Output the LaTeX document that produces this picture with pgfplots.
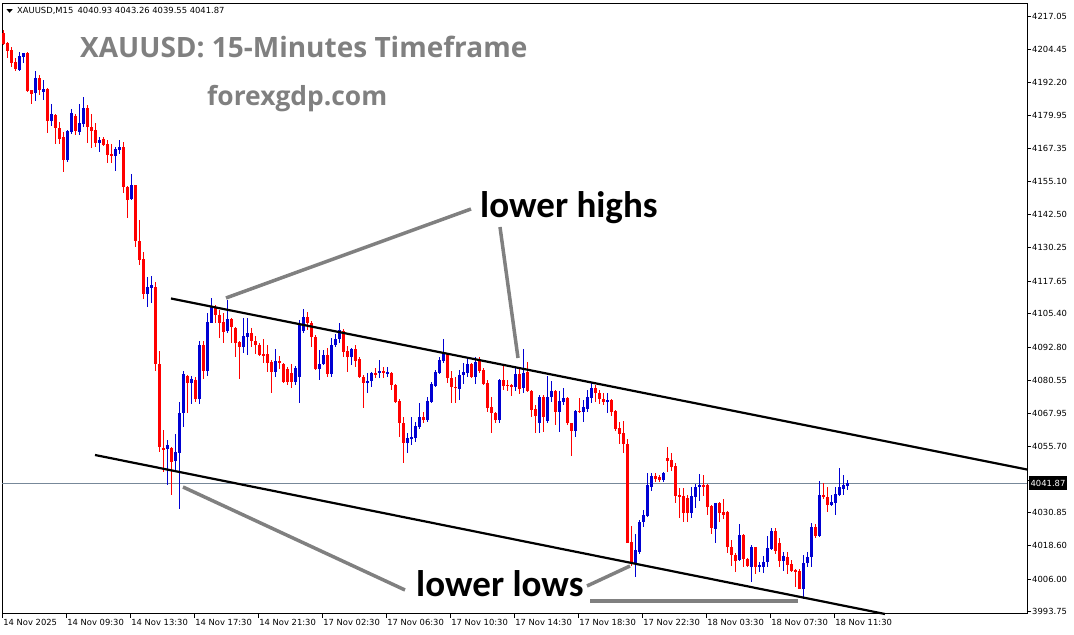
\documentclass[border=0pt]{standalone}
\usepackage{fontspec}
\setmainfont{DejaVu Sans}
\newfontfamily\titlefont{Open Sans}
\newfontfamily\annfont{Carlito}
\usepackage{pgfplots}
\pgfplotsset{compat=1.18}
\usepackage{pgfplotstable}
\definecolor{cred}{RGB}{255,0,0}
\definecolor{cblue}{RGB}{0,0,210}
\definecolor{tgray}{RGB}{128,128,128}
\definecolor{bidline}{RGB}{119,136,153}

\pgfplotstableread{
k o h l c
0 4210.8 4211.9 4206.2 4206.6
1 4207.1 4207.4 4201.2 4204.1
2 4204.4 4205.4 4198.1 4199.6
3 4199.9 4201.2 4196.6 4197.3
6 4203.3 4203.6 4188.7 4189.0
7 4189.4 4189.4 4184.0 4187.9
9 4194.0 4195.0 4187.5 4189.4
11 4189.8 4190.1 4173.3 4177.8
13 4180.0 4180.4 4169.2 4175.0
14 4175.1 4177.4 4169.1 4171.0
15 4171.6 4173.6 4158.7 4163.1
18 4179.6 4180.4 4172.5 4174.0
21 4182.6 4183.6 4169.4 4175.6
22 4175.6 4180.4 4167.7 4174.1
23 4174.4 4176.9 4168.1 4169.6
25 4171.1 4171.6 4168.4 4168.7
26 4169.1 4170.6 4162.1 4165.1
27 4165.4 4169.1 4162.1 4164.6
30 4168.1 4169.9 4150.8 4152.9
31 4152.9 4153.4 4141.5 4148.1
33 4153.8 4153.8 4130.6 4132.8
34 4132.8 4140.6 4123.7 4125.6
35 4126.0 4128.6 4110.9 4112.9
38 4115.6 4117.4 4084.1 4086.6
39 4086.6 4091.6 4053.6 4055.6
40 4055.2 4061.9 4046.2 4054.4
42 4055.0 4055.6 4037.5 4050.0
46 4082.1 4082.5 4068.3 4079.4
48 4080.6 4081.8 4072.2 4073.4
50 4093.7 4095.2 4081.0 4084.1
53 4108.1 4108.7 4101.9 4105.0
54 4105.0 4106.9 4096.2 4102.1
55 4102.5 4105.6 4094.4 4098.7
57 4103.4 4103.7 4094.4 4100.6
58 4100.0 4100.6 4089.1 4094.6
59 4095.0 4095.2 4080.9 4093.1
62 4098.3 4100.0 4093.1 4095.2
63 4095.3 4097.1 4090.4 4093.7
64 4093.7 4094.6 4089.6 4090.0
65 4090.4 4095.9 4086.9 4089.6
66 4090.4 4093.7 4083.7 4087.1
67 4087.5 4088.1 4075.6 4083.7
69 4087.7 4089.6 4084.6 4087.1
70 4086.6 4086.9 4079.4 4080.0
71 4084.6 4085.4 4078.7 4080.0
72 4083.1 4086.6 4077.5 4080.0
76 4104.3 4106.2 4099.4 4102.1
77 4101.9 4102.8 4093.1 4096.6
78 4096.8 4097.5 4084.4 4084.6
81 4090.0 4092.5 4081.6 4082.9
85 4099.1 4099.6 4089.3 4091.2
86 4091.6 4093.4 4083.7 4089.3
88 4092.1 4093.7 4085.6 4087.8
89 4088.4 4089.3 4081.2 4081.8
90 4081.8 4082.5 4070.0 4079.6
93 4083.3 4085.0 4081.2 4082.6
95 4084.1 4085.4 4081.2 4083.1
97 4083.3 4083.7 4076.9 4078.7
98 4078.7 4079.1 4072.1 4072.5
99 4072.8 4073.4 4059.3 4064.4
100 4064.4 4066.8 4049.6 4057.1
105 4066.6 4068.7 4064.4 4065.6
111 4090.4 4090.8 4079.6 4081.2
112 4081.2 4084.1 4072.1 4077.9
113 4078.1 4081.8 4072.1 4077.5
117 4086.6 4087.1 4081.2 4081.8
119 4087.8 4089.3 4083.1 4084.1
120 4084.4 4085.0 4078.7 4079.1
121 4079.4 4080.6 4068.7 4070.0
122 4070.4 4074.1 4060.8 4068.1
123 4068.1 4068.7 4064.4 4065.6
125 4080.6 4086.2 4076.9 4078.4
126 4078.7 4080.6 4076.6 4078.4
127 4078.7 4079.1 4074.6 4078.1
129 4082.9 4084.6 4075.4 4077.1
131 4083.7 4087.5 4076.2 4076.6
132 4076.6 4076.9 4066.8 4069.4
133 4069.6 4071.2 4060.8 4067.1
135 4074.1 4075.0 4061.2 4066.6
138 4076.6 4076.9 4063.7 4068.7
141 4073.7 4074.1 4063.7 4064.4
142 4064.4 4064.6 4052.1 4061.6
144 4069.1 4073.7 4068.1 4068.7
148 4077.5 4078.7 4072.4 4075.6
149 4075.6 4076.9 4071.6 4073.4
150 4073.4 4075.8 4071.2 4072.5
152 4073.1 4073.4 4067.1 4068.7
153 4069.1 4069.4 4061.5 4062.1
154 4062.5 4065.0 4056.6 4060.4
155 4060.6 4065.3 4053.3 4056.6
156 4056.6 4058.4 4019.4 4019.6
157 4020.0 4025.9 4010.9 4011.9
163 4044.6 4045.8 4042.4 4043.4
164 4044.1 4045.0 4042.4 4043.1
166 4051.2 4055.6 4046.2 4050.3
167 4050.6 4053.3 4046.6 4048.1
168 4048.4 4049.6 4034.4 4037.1
169 4037.5 4040.0 4028.7 4036.6
170 4037.1 4040.0 4027.5 4030.8
171 4036.4 4037.5 4027.5 4030.8
175 4041.2 4045.0 4037.1 4040.4
176 4041.2 4041.6 4030.0 4033.1
177 4033.4 4033.7 4022.9 4025.0
179 4034.6 4035.0 4027.5 4030.8
180 4031.2 4035.9 4028.4 4030.0
181 4031.2 4031.6 4015.6 4017.9
182 4018.1 4020.6 4010.9 4015.0
183 4015.0 4015.6 4008.7 4012.8
185 4022.5 4022.9 4010.4 4013.4
186 4013.4 4013.7 4010.4 4010.9
188 4017.9 4018.1 4007.9 4010.4
193 4024.1 4025.0 4015.4 4016.6
194 4019.6 4021.2 4010.4 4012.8
196 4014.4 4016.2 4007.9 4011.2
197 4011.6 4013.1 4008.7 4009.1
198 4009.4 4009.6 4003.1 4008.7
199 4009.1 4009.6 4002.1 4002.3
203 4025.6 4026.6 4021.2 4022.1
205 4037.5 4041.9 4035.9 4036.9
206 4036.9 4040.4 4031.2 4033.7
}\down

\pgfplotstableread{
k o h l c
4 4196.9 4203.7 4196.6 4202.1
5 4201.8 4203.3 4199.6 4203.1
8 4188.1 4196.5 4185.2 4194.0
10 4188.7 4193.1 4185.6 4189.7
12 4177.8 4184.1 4175.9 4180.4
16 4163.1 4174.4 4162.5 4174.1
17 4173.6 4182.2 4172.9 4180.6
19 4173.7 4184.1 4172.5 4176.9
20 4176.5 4186.8 4175.4 4182.5
24 4169.6 4171.6 4166.2 4170.6
28 4164.6 4168.1 4159.1 4167.3
29 4166.9 4170.6 4165.4 4168.1
32 4148.6 4157.9 4148.1 4153.8
36 4112.9 4119.3 4107.9 4115.6
37 4115.2 4119.6 4109.6 4116.2
41 4054.6 4058.1 4041.2 4056.2
43 4050.2 4060.4 4046.9 4053.5
44 4053.1 4072.5 4032.3 4068.3
45 4068.3 4084.1 4063.1 4082.7
47 4079.4 4082.1 4071.5 4080.9
49 4073.4 4095.2 4071.6 4093.7
51 4084.1 4105.6 4082.1 4102.5
52 4102.1 4111.2 4101.9 4108.1
56 4099.1 4110.6 4098.3 4103.4
60 4093.1 4103.7 4090.8 4097.1
61 4096.8 4103.7 4090.0 4098.3
68 4083.7 4092.1 4081.8 4087.7
73 4080.0 4085.9 4078.6 4085.2
74 4081.8 4103.1 4072.1 4101.6
75 4099.1 4107.1 4098.1 4104.3
79 4084.6 4091.9 4080.6 4086.6
80 4086.6 4091.9 4086.2 4090.0
82 4082.9 4096.2 4081.6 4093.7
83 4093.7 4097.9 4093.1 4095.9
84 4095.9 4101.9 4094.4 4099.4
87 4089.1 4092.5 4086.2 4092.1
91 4079.6 4083.3 4075.8 4080.3
92 4080.3 4083.7 4077.9 4083.3
94 4083.1 4088.1 4081.2 4084.1
96 4083.1 4085.4 4081.8 4083.7
101 4057.1 4060.8 4053.3 4058.7
102 4058.4 4066.6 4056.2 4059.3
103 4058.7 4065.0 4057.5 4063.4
104 4063.1 4071.9 4062.1 4066.6
106 4065.6 4074.1 4065.0 4072.8
107 4072.5 4080.0 4071.9 4079.1
108 4078.4 4084.4 4077.9 4083.7
109 4083.3 4089.3 4082.9 4088.1
110 4087.8 4095.9 4086.9 4090.8
114 4077.1 4084.4 4073.1 4082.5
115 4082.5 4087.1 4079.1 4083.7
116 4083.3 4088.7 4081.8 4086.6
118 4081.8 4089.3 4079.1 4087.5
124 4065.6 4080.9 4064.6 4080.6
128 4078.1 4085.0 4076.6 4082.9
130 4077.5 4092.1 4075.8 4083.3
134 4064.4 4075.0 4060.8 4074.1
136 4065.3 4082.1 4064.6 4074.1
137 4074.1 4080.3 4072.5 4076.6
139 4068.7 4076.6 4061.2 4072.8
140 4072.5 4077.5 4071.2 4073.7
143 4061.6 4069.4 4059.3 4069.1
145 4068.7 4073.1 4065.0 4070.4
146 4069.6 4076.9 4068.7 4074.1
147 4073.7 4079.6 4071.9 4077.5
151 4072.5 4075.8 4068.1 4073.1
158 4011.9 4022.9 4006.8 4016.9
159 4016.2 4028.1 4015.4 4027.5
160 4027.5 4031.9 4025.4 4030.0
161 4029.6 4045.6 4029.1 4041.2
162 4040.6 4045.8 4039.1 4044.6
165 4043.1 4046.2 4042.4 4045.8
172 4030.8 4040.6 4028.7 4037.1
173 4036.9 4041.6 4032.5 4040.6
174 4040.6 4045.4 4035.3 4041.2
178 4024.6 4034.6 4019.6 4034.6
184 4013.1 4026.6 4012.8 4022.5
187 4010.6 4018.7 4005.0 4018.1
189 4010.6 4012.5 4008.7 4011.2
190 4010.6 4014.6 4008.3 4012.5
191 4012.5 4022.1 4010.4 4017.5
192 4017.1 4025.0 4016.9 4024.1
195 4012.8 4016.2 4009.1 4014.6
200 4002.3 4015.0 3998.4 4012.1
201 4011.9 4016.2 4010.4 4014.1
202 4014.1 4027.1 4010.4 4025.6
204 4022.1 4042.8 4021.6 4037.5
207 4033.7 4037.5 4033.4 4035.0
208 4034.6 4040.6 4030.0 4037.9
209 4037.5 4047.5 4037.1 4040.4
210 4039.6 4045.0 4037.5 4041.2
211 4040.93 4043.26 4039.55 4041.87
}\up

\newcommand{\smallfont}{\fontsize{8.4bp}{10bp}\selectfont}

\begin{document}
\begin{tikzpicture}
\useasboundingbox (0,0) rectangle (1074bp,635bp);
\begin{axis}[
  at={(2bp,21bp)}, anchor=south west,
  width=1025bp, height=610bp, scale only axis,
  xmin=-0.325, xmax=255.925, ymin=3992.87, ymax=4221.57,
  axis line style={line width=1bp, black},
  xtick={-0.3,15.7,31.7,47.7,63.7,79.7,95.7,111.7,127.7,143.7,159.7,175.7,191.7,207.7},
  xticklabels={14 Nov 2025,14 Nov 09:30,14 Nov 13:30,14 Nov 17:30,14 Nov 21:30,17 Nov 02:30,17 Nov 06:30,17 Nov 10:30,17 Nov 14:30,17 Nov 18:30,17 Nov 22:30,18 Nov 03:30,18 Nov 07:30,18 Nov 11:30},
  ytick={4217.05,4204.45,4192.20,4179.95,4167.35,4155.10,4142.50,4130.25,4117.65,4105.40,4092.80,4080.55,4067.95,4055.70,4043.10,4030.85,4018.60,4006.00,3993.75},
  yticklabels={4217.05,4204.45,4192.20,4179.95,4167.35,4155.10,4142.50,4130.25,4117.65,4105.40,4092.80,4080.55,4067.95,4055.70,4043.10,4030.85,4018.60,4006.00,3993.75},
  xtick pos=bottom, ytick pos=right, yticklabel pos=right,
  tick align=outside, major tick length=4bp,
  tick style={black, line width=0.8bp},
  x tick label style={anchor=north west, font=\smallfont, inner sep=1bp, xshift=0bp},
  y tick label style={anchor=west, font=\smallfont, inner sep=1bp},
  candle/.style={mark=none, draw opacity=0, forget plot},
]
\draw[bidline, line width=0.8bp] (axis cs:-0.325,4041.87) -- (axis cs:255.925,4041.87);
% wicks
\addplot[candle, error bars/.cd, y dir=both, y explicit, error mark=none,
  error bar style={line width=1bp, cred, draw opacity=1}]
  table[x=k, y expr={(\thisrow{h}+\thisrow{l})/2}, y error expr={(\thisrow{h}-\thisrow{l})/2}] {\down};
\addplot[candle, error bars/.cd, y dir=both, y explicit, error mark=none,
  error bar style={line width=1bp, cblue, draw opacity=1}]
  table[x=k, y expr={(\thisrow{h}+\thisrow{l})/2}, y error expr={(\thisrow{h}-\thisrow{l})/2}] {\up};
% bodies
\addplot[candle, error bars/.cd, y dir=both, y explicit, error mark=none,
  error bar style={line width=3bp, cred, draw opacity=1}]
  table[x=k, y expr={(\thisrow{o}+\thisrow{c})/2}, y error expr={max(abs(\thisrow{o}-\thisrow{c})/2,0.2)}] {\down};
\addplot[candle, error bars/.cd, y dir=both, y explicit, error mark=none,
  error bar style={line width=3bp, cblue, draw opacity=1}]
  table[x=k, y expr={(\thisrow{o}+\thisrow{c})/2}, y error expr={max(abs(\thisrow{o}-\thisrow{c})/2,0.2)}] {\up};
\end{axis}

\begin{scope}[x=1bp, y=-1bp, shift={(0bp,635bp)}]
  % trend lines
  \draw[black, line width=2.2bp] (171,298.5) -- (1027,469.5);
  \draw[black, line width=2.2bp] (95,455) -- (885,614);
  % gray annotation lines
  \draw[tgray, line width=3.5bp] (226,298) -- (471,209);
  \draw[tgray, line width=3.5bp] (500,227) -- (518,358);
  \draw[tgray, line width=3.5bp] (183,487) -- (405,590);
  \draw[tgray, line width=3.5bp] (587,586) -- (630,566);
  \draw[tgray, line width=3.5bp] (590,601) -- (798,601);
  % texts
  \node[anchor=base west, inner sep=0, text=tgray, font=\titlefont\bfseries\fontsize{28bp}{30bp}\selectfont] at (80,58) {XAUUSD: 15-Minutes Timeframe};
  \node[anchor=base west, inner sep=0, text=tgray, font=\titlefont\bfseries\fontsize{26.4bp}{30bp}\selectfont] at (207,106) {forexgdp.com};
  \node[anchor=base west, inner sep=0, font=\annfont\bfseries\fontsize{37bp}{40bp}\selectfont] at (480,218) {lower highs};
  \node[anchor=base west, inner sep=0, font=\annfont\bfseries\fontsize{37bp}{40bp}\selectfont] at (416,597) {lower lows};
  % header
  \fill[black] (6.5,9.2) -- (12.7,9.2) -- (9.6,12.8) -- cycle;
  \node[anchor=base west, inner sep=0, font=\smallfont] at (17,14) {XAUUSD,M15\enspace 4040.93 4043.26 4039.55 4041.87};
  % price box
  \fill[black] (1029,476.5) rectangle (1067,490);
  \node[text=white, inner sep=0, font=\smallfont] at (1048,483.5) {4041.87};
\end{scope}
\end{tikzpicture}
\end{document}
